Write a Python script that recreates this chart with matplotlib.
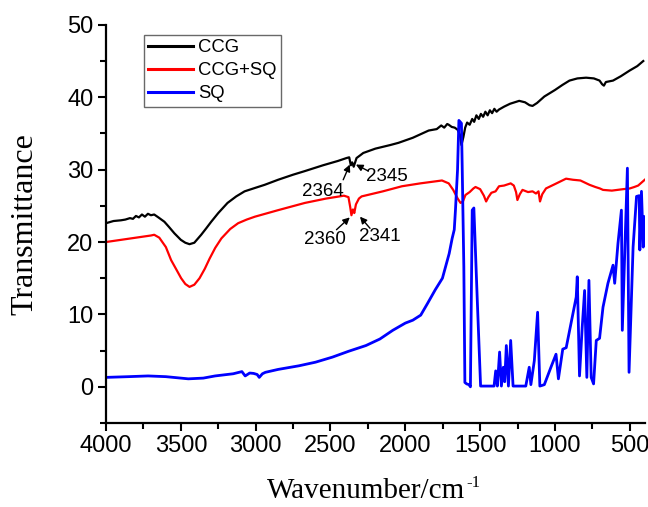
import matplotlib
matplotlib.use("Agg")
import matplotlib.pyplot as plt

# ---- data (wavenumber, transmittance) ----
ccg_wn = [4000, 3950, 3900, 3871, 3840, 3820, 3800, 3780, 3760, 3740, 3720, 3700, 3678, 3650, 3610,
          3580, 3543, 3500, 3470, 3442, 3410, 3364, 3330, 3297, 3250, 3188, 3130, 3074, 3000, 2940,
          2850, 2750, 2671, 2550, 2450, 2393, 2375, 2364, 2355, 2345, 2326, 2300, 2281, 2200,
          2100, 2046, 1950, 1844, 1790, 1760, 1740, 1720, 1710, 1690, 1670, 1650, 1635, 1625, 1612,
          1600, 1587, 1570, 1553, 1540, 1525, 1509, 1495, 1480, 1465, 1450, 1435, 1420, 1405, 1390,
          1374, 1340, 1300, 1239, 1200, 1170, 1150, 1120, 1071, 1000, 950, 903, 850, 792, 740, 702,
          685, 673, 660, 612, 560, 500, 450, 410]
ccg_t = [22.6, 22.9, 23.0, 23.1, 23.3, 23.2, 23.6, 23.4, 23.8, 23.5, 23.9, 23.7, 23.8, 23.4, 22.8,
         22.1, 21.2, 20.3, 19.9, 19.7, 19.9, 21.0, 21.9, 22.8, 24.0, 25.4, 26.3, 27.0, 27.5, 27.9,
         28.6, 29.3, 29.8, 30.6, 31.2, 31.6, 31.7, 30.6, 31.0, 30.4, 31.6, 32.0, 32.3, 32.9,
         33.4, 33.7, 34.4, 35.4, 35.6, 36.1, 35.8, 36.3, 36.2, 35.9, 35.8, 35.5, 34.8, 33.4, 34.5,
         35.8, 36.5, 36.2, 37.0, 36.6, 37.5, 37.0, 37.7, 37.3, 38.0, 37.5, 38.2, 37.8, 38.4, 38.0,
         38.3, 38.7, 39.1, 39.5, 39.3, 38.9, 38.8, 39.2, 40.1, 41.0, 41.7, 42.3, 42.6, 42.7, 42.6, 42.3,
         41.8, 41.6, 42.1, 42.3, 42.9, 43.7, 44.3, 45.0]

mix_wn = [4000, 3900, 3800, 3700, 3678, 3644, 3600, 3565, 3530, 3498, 3470, 3442, 3410, 3375, 3340,
          3308, 3270, 3229, 3170, 3117, 3060, 3005, 2850, 2671, 2530, 2410, 2380, 2368, 2360, 2350,
          2341, 2330, 2310, 2292, 2150, 2023, 1900, 1755, 1710, 1680, 1650, 1631, 1615, 1598, 1570,
          1545, 1531, 1500, 1475, 1460, 1445, 1425, 1397, 1374, 1340, 1296, 1275, 1260, 1251, 1235,
          1217, 1180, 1150, 1127, 1110, 1100, 1085, 1060, 1000, 926, 880, 830, 769, 730, 700, 679,
          620, 545, 500, 470, 444, 400]
mix_t = [20.0, 20.3, 20.6, 20.9, 21.0, 20.6, 19.3, 17.5, 16.2, 15.0, 14.2, 13.8, 14.1, 15.0, 16.3,
         17.7, 19.2, 20.5, 21.8, 22.6, 23.1, 23.5, 24.4, 25.4, 26.0, 26.4, 26.2, 24.8, 23.7, 24.5,
         24.0, 25.2, 26.0, 26.3, 27.0, 27.7, 28.1, 28.5, 28.1, 27.2, 26.0, 25.4, 25.6, 26.5, 26.9,
         27.4, 27.6, 27.3, 26.4, 25.6, 26.2, 26.8, 27.0, 27.7, 27.8, 28.1, 27.8, 26.9, 25.8, 26.6,
         27.2, 26.9, 27.0, 26.7, 27.0, 25.6, 26.6, 27.4, 28.0, 28.75, 28.6, 28.5, 27.9, 27.6, 27.4, 27.2,
         27.1, 27.3, 27.4, 27.6, 27.8, 28.6]

sq_wn = [4000, 3850, 3719, 3600, 3450, 3350, 3271, 3150, 3092, 3070, 3040, 3014, 2990, 2976, 2955,
         2935, 2850, 2711, 2600, 2487, 2380, 2263, 2170, 2084, 2000, 1950, 1897, 1852, 1800, 1752,
         1707, 1687, 1673, 1665, 1651, 1642, 1625, 1620, 1609, 1602, 1590, 1575, 1565, 1553,
         1542, 1530, 1519, 1497, 1450, 1407, 1396, 1385, 1370, 1358, 1345, 1336, 1325, 1311, 1296,
         1280, 1240, 1195, 1172, 1161, 1138, 1116, 1101, 1085, 1071, 1027, 993, 977, 948, 925, 858,
         851, 836, 818, 802, 787, 773, 758, 742, 724, 702, 679, 646, 612, 601, 579, 556, 550,
         516, 505, 478, 455, 437, 433, 422, 410, 400]
sq_t = [1.3, 1.4, 1.5, 1.4, 1.1, 1.2, 1.5, 1.8, 2.1, 1.5, 1.9, 1.85, 1.7, 1.3, 1.8,
        2.0, 2.4, 2.9, 3.4, 4.1, 4.9, 5.7, 6.6, 7.8, 8.8, 9.2, 9.9, 11.5, 13.4, 15.0,
        18.4, 20.5, 21.7, 24.4, 30.0, 36.8, 36.4, 30.5, 16.6, 0.6, 0.4, 0.3, 0.0, 24.4,
        24.7, 18.0, 11.9, 0.1, 0.1, 0.1, 2.2, 0.1, 4.8, 0.1, 2.7, 0.7, 5.7, 0.1, 6.4,
        0.1, 0.1, 0.1, 2.7, 0.3, 3.6, 10.3, 0.1, 0.2, 0.3, 2.7, 4.5, 1.1, 5.2, 5.4, 12.4,
        15.2, 1.5, 8.2, 13.3, 1.3, 14.7, 1.3, 0.4, 6.4, 6.7, 11.0, 14.3, 16.8, 14.3, 19.8, 24.4, 7.8,
        30.2, 2.0, 19.3, 26.3, 26.4, 18.9, 27.0, 19.3, 23.5]

series_labels = ["CCG", "CCG+SQ", "SQ"]
series_colors = ["black", "red", "blue"]

x_ticks = [4000, 3500, 3000, 2500, 2000, 1500, 1000, 500]
y_ticks = [0, 10, 20, 30, 40, 50]

# annotations: (label, text position, arrow tail, arrow head) in data units
annotations = [
    ("2364", (2550, 27.0), (2415, 28.6), (2371, 30.7)),
    ("2345", (2124, 29.1), (2247, 29.8), (2330, 30.7)),
    ("2360", (2539, 20.3), (2460, 21.7), (2371, 23.4)),
    ("2341", (2169, 20.7), (2236, 21.9), (2303, 23.5)),
]

plt.rcParams['font.family'] = ['Liberation Sans', 'DejaVu Sans']

fig = plt.figure(figsize=(6.48, 5.07), dpi=100)
ax = fig.add_axes([0.1636, 0.1657, 0.8314, 0.7853])

ax.plot(ccg_wn, ccg_t, color=series_colors[0], lw=1.6, label=series_labels[0])
ax.plot(mix_wn, mix_t, color=series_colors[1], lw=1.6, label=series_labels[1])
ax.plot(sq_wn, sq_t, color=series_colors[2], lw=2.0, label=series_labels[2])

for txt, tpos, tail, head in annotations:
    ax.text(tpos[0], tpos[1], txt, fontsize=13.5, ha='center', va='center')
    ax.annotate('', xy=head, xytext=tail,
                arrowprops=dict(arrowstyle='-|>', color='black', lw=1.0,
                                mutation_scale=10, shrinkA=0, shrinkB=0))

ax.set_xlim(4000, 400)
ax.set_ylim(-5, 50)
ax.set_xticks(x_ticks)
ax.set_yticks(y_ticks)
ax.set_xticks([3750, 3250, 2750, 2250, 1750, 1250, 750], minor=True)
ax.set_yticks([-5, 5, 15, 25, 35, 45], minor=True)
ax.tick_params(which='major', direction='out', length=6, width=1.5, labelsize=17, pad=3)
ax.tick_params(which='minor', direction='out', length=4, width=1.5)
for s in ['top', 'right']:
    ax.spines[s].set_visible(False)
for s in ['left', 'bottom']:
    ax.spines[s].set_linewidth(1.6)

ax.set_xlabel('Wavenumber/cm', family='Liberation Serif', fontsize=21, labelpad=15)
ax.xaxis.label.set_x(0.5 - 9 / 539)
ax.set_ylabel('Transmittance', family='Liberation Serif', fontsize=23, labelpad=20)

leg = ax.legend(loc='upper left', bbox_to_anchor=(0.07, 0.975), fontsize=13.3, frameon=True,
                fancybox=False, edgecolor='#444444', handlelength=2.4, handletextpad=0.3,
                borderpad=0.25, labelspacing=0.32, borderaxespad=0)
leg.get_frame().set_linewidth(1.0)
for line in leg.get_lines():
    line.set_linewidth(2.2)

# small superscript "-1" after the x label
fig.canvas.draw()
bb = ax.xaxis.label.get_window_extent()
fig.text((bb.x1 + 1) / fig.bbox.width, (bb.y1 + 3) / fig.bbox.height, '-1',
         family='Liberation Serif', fontsize=12, ha='left', va='top')

fig.savefig('out.png', dpi=100)
